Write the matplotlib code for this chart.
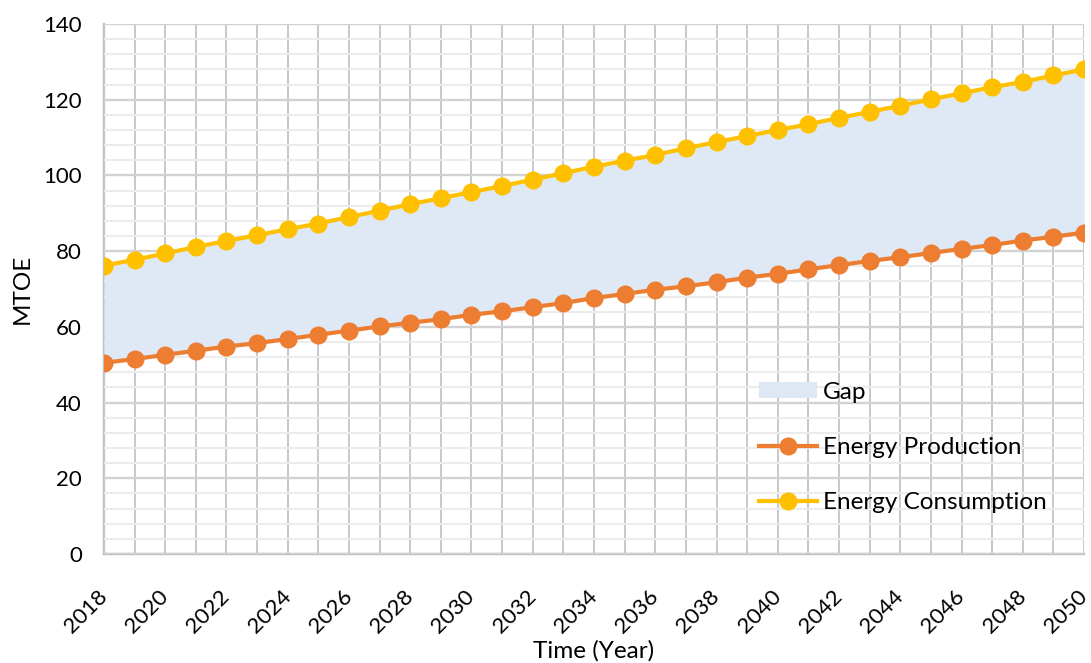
import matplotlib
matplotlib.use("Agg")
import matplotlib.pyplot as plt
from matplotlib.ticker import MultipleLocator
from matplotlib.patches import Patch
from matplotlib.lines import Line2D

years = list(range(2018, 2051))
consumption = [76.2, 77.7, 79.4, 81.1, 82.7, 84.2, 85.8, 87.3, 89.0, 90.7,
               92.4, 94.0, 95.6, 97.2, 98.9, 100.6, 102.3, 103.9, 105.4, 107.2,
               108.8, 110.4, 112.0, 113.5, 115.2, 116.8, 118.4, 120.1, 121.7,
               123.3, 124.7, 126.4, 128.0]
production = [50.5, 51.5, 52.6, 53.7, 54.8, 55.7, 56.8, 57.9, 59.0, 60.1,
              61.1, 62.0, 63.2, 64.1, 65.2, 66.3, 67.6, 68.7, 69.8, 70.7,
              71.8, 73.0, 74.0, 75.2, 76.3, 77.4, 78.4, 79.5, 80.6, 81.6,
              82.8, 83.8, 84.9]
x_tick_labels = [str(y) for y in range(2018, 2051, 2)]

plt.rcParams['font.family'] = ['Lato', 'DejaVu Sans']

fig = plt.figure(figsize=(10.91, 6.63), dpi=100)
ax = fig.add_axes([0.0953, 0.1644, 0.8983, 0.7994])

gap_color = '#dee9f5'
prod_color = '#ed7d31'
cons_color = '#ffc000'

ax.fill_between(years, production, consumption, color=gap_color, lw=0, zorder=1)
ax.plot(years, production, color=prod_color, lw=3, marker='o', ms=12, zorder=3)
ax.plot(years, consumption, color=cons_color, lw=3, marker='o', ms=12, zorder=3)

ax.set_xlim(2018, 2050)
ax.set_ylim(0, 140)
ax.xaxis.set_minor_locator(MultipleLocator(1))
ax.set_xticks(range(2018, 2051, 2))
ax.set_xticklabels(x_tick_labels, rotation=45, ha='right', va='center',
                   rotation_mode='anchor')
ax.yaxis.set_major_locator(MultipleLocator(20))
ax.yaxis.set_minor_locator(MultipleLocator(4))

ax.set_axisbelow(True)
ax.grid(which='major', axis='y', color='#d2d2d2', lw=1.7, zorder=0)
ax.grid(which='minor', axis='y', color='#ececec', lw=1.5, zorder=0)
ax.grid(which='both', axis='x', color='#c8c8c8', lw=1.4, zorder=0)

for s in ['top', 'right']:
    ax.spines[s].set_visible(False)
for s in ['left', 'bottom']:
    ax.spines[s].set_color('#c0c0c0')
    ax.spines[s].set_linewidth(1.7)
    ax.spines[s].set_zorder(0.5)

ax.tick_params(which='both', length=0, labelsize=16, colors='black')
ax.tick_params(axis='x', pad=28)
ax.tick_params(axis='y', pad=16)

ax.set_xlabel('Time (Year)', fontsize=17.5)
ax.set_ylabel('MTOE', fontsize=17.5)
ax.xaxis.set_label_coords(0.5, -0.183)
ax.yaxis.set_label_coords(-0.0837, 0.5)
ax.xaxis.label.set_va('center')
ax.yaxis.label.set_va('center')

handles = [
    Patch(facecolor=gap_color, edgecolor='none'),
    Line2D([], [], color=prod_color, lw=3, marker='o', ms=12),
    Line2D([], [], color=cons_color, lw=3, marker='o', ms=12),
]
labels = ['Gap', 'Energy Production', 'Energy Consumption']
ax.legend(handles, labels, loc='upper left', bbox_to_anchor=(0.668, 0.325),
          frameon=False, fontsize=17.5, handlelength=2.4, handleheight=0.6,
          handletextpad=0.25, labelspacing=1.4, borderaxespad=0,
          borderpad=0)

fig.savefig('out.png', dpi=100)
